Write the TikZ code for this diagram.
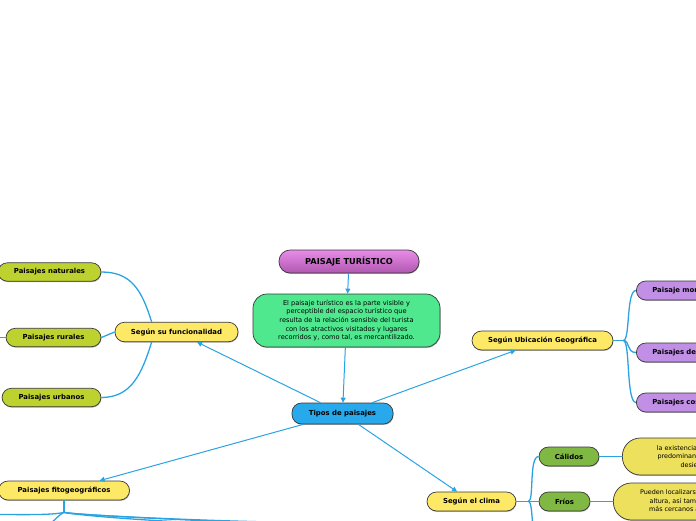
\documentclass[tikz,border=0pt]{standalone}
\usepackage{fontspec}
\setmainfont{DejaVu Sans}
\usetikzlibrary{arrows.meta,shadows,calc}
\definecolor{conn}{HTML}{2BA3E3}
\definecolor{descgreen}{HTML}{4FE88F}
\definecolor{tiposblue}{HTML}{27A9EC}
\definecolor{yel}{HTML}{FDE966}
\definecolor{olive}{HTML}{BDD12F}
\definecolor{purp}{HTML}{C28FE6}
\definecolor{grn}{HTML}{7FB842}
\definecolor{dyel}{HTML}{EDE05C}
\definecolor{pinktop}{HTML}{E88CE8}
\definecolor{pinkbot}{HTML}{B057B0}
\begin{document}
\begin{tikzpicture}[x=1pt,y=-1pt,
  pill/.style={draw=black!78, line width=0.7pt, rounded corners=9.5pt, minimum height=19.5pt, inner sep=0pt,
    font=\fontsize{6.9}{8}\selectfont\bfseries,
    drop shadow={shadow xshift=0.5pt,shadow yshift=-0.9pt,opacity=0.3,fill=black}},
  desctext/.style={font=\fontsize{6.6}{8.6}\selectfont, align=center},
  link/.style={draw=conn, line width=1pt},
  arr/.style={link, -{Triangle[length=5pt,width=5pt]}},
  branch/.style={draw=conn, line width=1.3pt}]
\useasboundingbox (0,0) rectangle (696,520);
\clip (0,0) rectangle (696,520);

% central nodes
\node[pill, top color=pinktop, bottom color=pinkbot, minimum width=140pt, minimum height=23pt,
  rounded corners=11pt, font=\fontsize{8.2}{9}\selectfont\bfseries] (title) at (349,261.5) {PAISAJE TURÍSTICO};
\node[pill, fill=descgreen, minimum width=187pt, minimum height=53pt, rounded corners=14pt, desctext] (desc) at (346.5,320.5)
  {El paisaje turístico es la parte visible y\\perceptible del espacio turístico que\\resulta de la relación sensible del turista\\con los atractivos visitados y lugares\\recorridos y, como tal, es mercantilizado.};
\node[pill, fill=tiposblue, minimum width=101pt, minimum height=21pt] (tipos) at (342.5,413.5) {Tipos de paisajes};

% funcionalidad
\node[pill, fill=yel, minimum width=123pt] (func) at (176.5,332) {Según su funcionalidad};
\node[pill, fill=olive, minimum width=103pt, minimum height=18.5pt] (nat) at (49.5,272) {Paisajes naturales};
\node[pill, fill=olive, minimum width=95pt, minimum height=18.5pt] (rur) at (53.5,337.5) {Paisajes rurales};
\node[pill, fill=olive, minimum width=99pt, minimum height=18.5pt] (urb) at (51.5,397.5) {Paisajes urbanos};

% ubicacion
\node[pill, fill=yel, minimum width=141pt, minimum height=19pt] (ubi) at (542.5,340.5) {Según Ubicación Geográfica};
\node[pill, fill=purp, anchor=west, text width=110pt, align=left, inner xsep=16pt, minimum height=19pt] (pm) at (636,290.5) {Paisaje montañoso};
\node[pill, fill=purp, anchor=west, text width=110pt, align=left, inner xsep=16pt, minimum height=19pt] (pd) at (636,352.5) {Paisajes de llanura};
\node[pill, fill=purp, anchor=west, text width=110pt, align=left, inner xsep=16pt, minimum height=19pt] (pc) at (636,402.5) {Paisajes costeros};

% clima
\node[pill, fill=yel, minimum width=89pt, minimum height=19pt] (clima) at (471.5,501.5) {Según el clima};
\node[pill, fill=grn, minimum width=60pt, minimum height=19pt] (cal) at (569,456.5) {Cálidos};
\node[pill, fill=grn, minimum width=51pt, minimum height=19pt] (fri) at (564.5,501.5) {Fríos};
\node[pill, fill=dyel, anchor=west, minimum width=148pt, minimum height=37pt, rounded corners=18pt, desctext,
  font=\fontsize{6.4}{8.4}\selectfont] (caldesc) at (622,456.5)
  {la existencia de playas y\\predominan las selvas y\\desiertos.};
\node[pill, fill=dyel, anchor=west, minimum width=154pt, minimum height=37pt, rounded corners=18pt, desctext,
  font=\fontsize{6.4}{8.4}\selectfont] (fridesc) at (613,501.5)
  {Pueden localizarse en zonas de\\altura, así también en los\\más cercanos a los polos.};

% fitogeograficos
\node[pill, fill=yel, minimum width=131pt, minimum height=19pt] (fito) at (64,490.5) {Paisajes fitogeográficos};

% main arrows
\draw[arr] (title) -- (desc);
\draw[arr] (desc) -- (tipos);
\draw[arr] (tipos) -- (func);
\draw[arr] (tipos) -- (ubi);
\draw[arr] (tipos) -- (fito);
\draw[arr] (tipos) -- (clima);

% funcionalidad branches
\coordinate (fT) at ($(func.north west)+(37,0)$);
\coordinate (fB) at ($(func.south west)+(37,0)$);
\coordinate (rl) at (-5,337.5);
\begin{scope}[on background layer/.style={}]
\draw[branch] (fT) .. controls +(-10,-32) and +(30,0) .. (nat.east);
\draw[branch] (fB) .. controls +(-10,32) and +(30,0) .. (urb.east);
\draw[branch] (func.west) -- (rur.east);
\draw[link] (rur.west) -- (rl);
\end{scope}

% ubicacion branches
\coordinate (uj) at ($(ubi.east)+(10,0)$);
\draw[branch] (ubi.east) -- (uj);
\draw[branch] (uj) .. controls +(7,0) and +(-10,0) .. (pm.west);
\draw[branch] (uj) .. controls +(7,0) and +(-10,0) .. (pd.west);
\draw[branch] (uj) .. controls +(7,0) and +(-10,0) .. (pc.west);

% clima branches
\coordinate (cj) at ($(clima.east)+(12,0)$);
\coordinate (cd) at (540,548);
\draw[branch] (clima.east) -- (cj);
\draw[branch] (cj) .. controls +(6,0) and +(-10,0) .. (cal.west);
\draw[branch] (cj) -- (fri.west);
\draw[branch] (cj) .. controls +(6,0) and +(-10,0) .. (cd);
\draw[branch] (cal) -- (caldesc);
\draw[branch] (fri) -- (fridesc);

% fitogeograficos branches
\coordinate (fj) at ($(fito.south)+(0,12)$);
\coordinate (fl) at (-5,514.5);
\coordinate (fd) at (46,528);
\coordinate (fr1) at (260,524);
\coordinate (fr2) at (345,523);
\coordinate (fr3) at (430,527);
\draw[branch] (fito.south) -- (fj);
\draw[branch] (fj) .. controls +(-12,3) and +(25,0) .. (fl);
\draw[branch] (fj) .. controls +(-6,3) and +(6,-5) .. (fd);
\draw[branch] (fj) .. controls +(12,3) and +(-80,0) .. (fr1);
\draw[branch] (fj) .. controls +(12,3) and +(-100,0) .. (fr2);
\draw[branch] (fj) .. controls +(12,3) and +(-120,0) .. (fr3);
\end{tikzpicture}
\end{document}
